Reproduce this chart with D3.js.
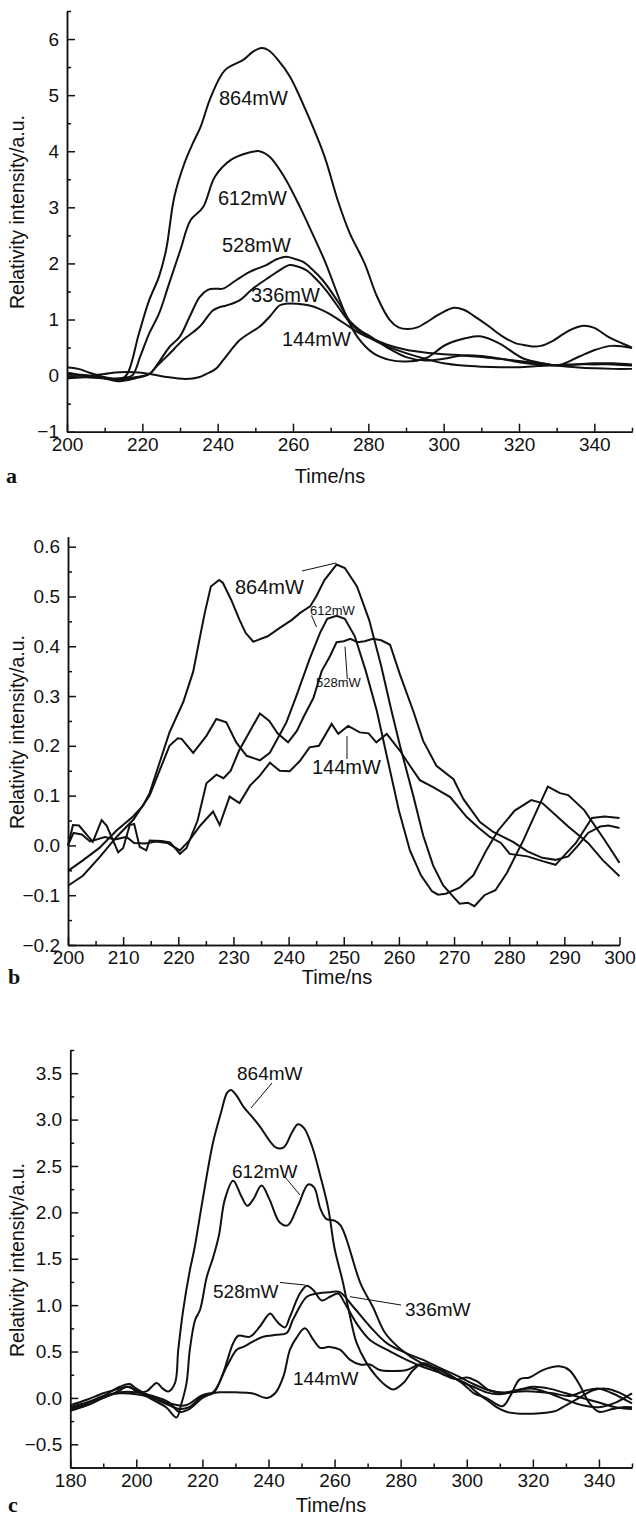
<!DOCTYPE html>
<head>
  <meta charset="utf-8">
  <script src="https://d3js.org/d3.v7.min.js"></script>
  <style>
    body { margin: 0; background: #fff; }
    svg text { font-family: "Liberation Sans", Arial, sans-serif; fill: #111; }
    .axis path, .axis line { stroke: #111; stroke-width: 1.5px; }
    .axis text { font-size: 19px; }
    .curve { fill: none; stroke: #111; stroke-width: 2px; }
    .lead { stroke: #111; stroke-width: 1px; }
    .letter { font-family: "Liberation Serif", "Times New Roman", serif !important; font-weight: bold; font-size: 22px; }
  </style>
</head>
<body>
<script>
// ---- panel a : time (ns), intensity ----
var a864 = [[200,0.15],[203,0.12],[206,0.05],[209,-0.01],[212,-0.06],[214,-0.08],[216,0.03],[219.1,0.75],[221.8,1.34],[224.4,1.76],[226.3,2.24],[228.5,3.19],[231.2,3.79],[233.4,4.14],[235.5,4.44],[238.2,4.97],[242,5.45],[246.8,5.63],[249.5,5.78],[251.7,5.84],[253.5,5.8],[256,5.63],[259.2,5.33],[264.1,4.62],[268.4,3.9],[272,3.1],[275,2.55],[279,2.0],[282.3,1.41],[285.6,1.0],[288,0.86],[290.4,0.83],[293,0.86],[295.2,0.94],[299,1.1],[302.7,1.21],[305.5,1.17],[308.1,1.06],[312,0.88],[315.6,0.7],[319,0.58],[321,0.55],[323.5,0.52],[325.8,0.53],[329,0.62],[331.7,0.74],[334.5,0.84],[337.1,0.89],[340,0.85],[343.5,0.7],[346.5,0.6],[350,0.5]];
var a612 = [[200,-0.05],[204,-0.03],[208,-0.02],[212,-0.05],[215,-0.04],[217.3,0.0],[219.5,0.35],[221.8,0.75],[224.4,1.1],[227.1,1.64],[230.1,2.24],[232.8,2.77],[236.1,3.0],[239.3,3.55],[243.6,3.85],[247.9,3.97],[251.1,4.0],[253.8,3.9],[257.6,3.55],[261.9,3.0],[265.1,2.54],[268.4,2.05],[273.8,1.12],[277,0.7],[281.3,0.4],[285.6,0.28],[289.9,0.25],[295.2,0.31],[300.6,0.55],[306,0.67],[309.7,0.7],[314.6,0.58],[321,0.31],[326.4,0.22],[330.7,0.19],[336,0.34],[340.3,0.46],[344.6,0.53],[350,0.49]];
var a528 = [[200,0.02],[205,0.0],[210,-0.05],[214,-0.1],[218,-0.05],[221.9,0.03],[224.5,0.25],[227.2,0.51],[229.9,0.69],[232.5,1.04],[235.2,1.4],[237.4,1.53],[239.5,1.55],[241.4,1.55],[244.9,1.7],[248.5,1.85],[252.9,1.97],[255.5,2.07],[258.2,2.12],[260.5,2.08],[262.6,2.03],[265,1.9],[267.9,1.7],[272.3,1.28],[275,0.98],[278,0.8],[280,0.72],[285,0.5],[290,0.33],[295,0.27],[300,0.3],[305,0.36],[310,0.35],[315,0.3],[320,0.24],[325,0.2],[330,0.18],[335,0.2],[340,0.22],[345,0.22],[350,0.2]];
var a336 = [[200,-0.02],[205,-0.03],[210,-0.05],[214,-0.07],[218,-0.03],[221.9,0.03],[224,0.18],[226.3,0.33],[228.5,0.48],[230.7,0.63],[235.2,0.87],[238.7,1.16],[240.5,1.22],[242.3,1.25],[245.8,1.34],[249.3,1.55],[253.8,1.76],[256.5,1.88],[259.1,1.97],[261,1.95],[263.5,1.88],[266,1.73],[268.8,1.52],[273.3,1.1],[275,0.95],[277.5,0.8],[280,0.7],[285,0.55],[290,0.46],[295,0.41],[300,0.38],[305,0.36],[310,0.33],[315,0.3],[320,0.26],[325,0.22],[330,0.18],[335,0.15],[340,0.13],[345,0.12],[350,0.12]];
var a144 = [[200,0.05],[203,0.02],[206,0.0],[210,0.03],[214,0.06],[218,0.06],[222,0.03],[226,-0.02],[231.6,-0.06],[235,-0.03],[237,0.03],[239.5,0.12],[241.4,0.27],[243.5,0.45],[245.8,0.63],[248.5,0.76],[251.1,0.87],[253.8,1.05],[256.4,1.25],[258,1.28],[261,1.28],[264.4,1.25],[267,1.19],[269.7,1.1],[272.5,0.98],[275,0.87],[277.5,0.76],[280,0.68],[285,0.52],[290,0.4],[295,0.3],[300,0.22],[305,0.18],[310,0.16],[315,0.15],[320,0.15],[325,0.17],[330,0.19],[335,0.2],[340,0.2],[345,0.2],[350,0.18]];

// ---- panel b ----
var b864 = [[200,-0.051],[202.7,-0.03],[205.7,-0.005],[208.8,0.03],[211.8,0.058],[213.6,0.08],[214.8,0.105],[216.6,0.166],[218.4,0.227],[220.9,0.288],[222.7,0.349],[223.9,0.417],[224.8,0.467],[225.9,0.52],[227.4,0.533],[228.1,0.527],[229.6,0.493],[231.1,0.453],[232.2,0.427],[233.6,0.409],[236.2,0.42],[238.4,0.437],[240.6,0.453],[242.1,0.467],[243.9,0.48],[245,0.5],[246.5,0.533],[248.7,0.564],[250.2,0.557],[252.4,0.52],[254.6,0.453],[256.8,0.36],[258.6,0.273],[260.2,0.2],[262.6,0.1],[264.4,0.02],[266.2,-0.04],[268,-0.08],[270,-0.105],[271,-0.117],[272.5,-0.115],[273.7,-0.122],[275.5,-0.1],[277.5,-0.09],[279.6,-0.055],[282.6,0.011],[285,0.07],[287,0.118],[289.2,0.105],[290.7,0.101],[293.6,0.071],[297.3,0.011],[300,-0.035]];
var b612 = [[200,-0.081],[202.7,-0.061],[205.7,-0.024],[208.8,0.017],[211.8,0.051],[214.8,0.1],[216.6,0.15],[218.4,0.2],[219.9,0.215],[220.6,0.214],[222.7,0.186],[225.1,0.22],[226.9,0.254],[228.7,0.247],[230.5,0.207],[232.4,0.18],[234.8,0.171],[236.6,0.186],[239.6,0.247],[241.4,0.3],[243.8,0.374],[245.7,0.427],[247,0.455],[248.7,0.461],[250.2,0.455],[252,0.42],[254,0.35],[256,0.27],[258,0.17],[260,0.07],[262,-0.01],[264,-0.06],[266,-0.092],[267.1,-0.099],[268.5,-0.097],[271,-0.085],[273.5,-0.06],[275.9,-0.009],[278,0.03],[281,0.07],[284,0.091],[286,0.085],[288,0.065],[290.7,0.038],[294.3,0.005],[297,-0.03],[300,-0.062]];
var b528 = [[200,0.0],[200.9,0.041],[202,0.04],[203.5,0.02],[204.5,0.007],[206.1,0.051],[207,0.04],[209.1,-0.014],[210,-0.005],[211.2,0.041],[212,0.043],[213,-0.003],[214.2,-0.01],[214.8,0.01],[217,0.009],[218.5,0.006],[220.3,-0.017],[221.5,-0.005],[223.5,0.05],[225.1,0.125],[226.9,0.142],[228.2,0.135],[229.5,0.15],[231,0.19],[233,0.23],[234.8,0.265],[236.5,0.25],[238,0.225],[239.9,0.207],[241.5,0.23],[242.8,0.26],[244.5,0.296],[246,0.35],[247.5,0.38],[248.7,0.408],[250,0.41],[251.2,0.415],[252.5,0.408],[253.8,0.41],[255.3,0.415],[256.8,0.412],[258.4,0.403],[260.2,0.343],[262.6,0.27],[264.4,0.21],[266.8,0.16],[269.9,0.133],[271.7,0.093],[274.7,0.047],[277.1,0.027],[280.7,0.007],[283.3,-0.012],[286,-0.025],[288.4,-0.029],[290.7,-0.022],[292.5,0.0],[294.3,0.025],[296.5,0.038],[298,0.04],[300,0.035]];
var b144 = [[200,0.0],[201,0.025],[202.5,0.022],[204,0.008],[206.7,0.017],[208.5,0.012],[210.6,0.017],[212,0.005],[214,0.004],[216,0.008],[218,0.005],[220.3,-0.01],[222,0.01],[224,0.04],[226.3,0.068],[227.5,0.041],[229.3,0.098],[231.1,0.085],[233,0.12],[234.8,0.14],[236.6,0.166],[238.4,0.15],[240.2,0.149],[242,0.169],[243.8,0.197],[245.5,0.2],[247.8,0.244],[249,0.224],[250.8,0.24],[252.9,0.227],[254.5,0.225],[255.9,0.207],[257.8,0.224],[260.2,0.19],[262,0.16],[263.8,0.131],[266.2,0.117],[269.3,0.097],[272.3,0.057],[274.5,0.035],[276.5,0.017],[278.5,0.005],[280.1,-0.017],[283.3,-0.022],[286.2,-0.032],[288.4,-0.039],[290,-0.02],[292.1,0.005],[295,0.055],[297.3,0.058],[300,0.055]];

// ---- panel c ----
var c864 = [[180,-0.08],[185,-0.02],[190,0.05],[195,0.1],[198,0.12],[200,0.07],[203,0.07],[206.2,0.16],[208,0.1],[209.7,0.07],[211.7,0.16],[212.7,0.52],[214.2,0.95],[216.2,1.375],[217.6,1.61],[220.1,2.14],[223.2,2.75],[225.6,3.07],[227.5,3.29],[228.7,3.32],[230.5,3.25],[232.4,3.14],[234.8,3.04],[237.3,2.93],[242.2,2.7],[244.6,2.7],[247.1,2.86],[248.9,2.95],[250.7,2.91],[253.2,2.71],[255.7,2.39],[258.1,2.04],[260,1.61],[262.5,1.25],[264.7,0.875],[266.7,0.59],[269.7,0.375],[272.7,0.23],[275.8,0.125],[277.8,0.09],[280.8,0.16],[283.8,0.3],[286.8,0.375],[290,0.33],[293.7,0.27],[297,0.2],[300,0.15],[303,0.06],[306,-0.02],[309,-0.1],[312,-0.15],[316,-0.17],[320,-0.17],[324,-0.16],[327,-0.14],[330,-0.08],[334,0.0],[338,0.08],[342,0.1],[346,0.06],[350,-0.02]];
var c612 = [[180,-0.14],[185,-0.08],[190,0.0],[195,0.08],[197,0.12],[200,0.08],[205,-0.02],[209,-0.1],[212.2,-0.21],[213.5,-0.08],[215.2,0.16],[216.2,0.52],[217.8,0.84],[219.3,0.95],[221.3,1.3],[223.3,1.52],[225,1.75],[226.8,2.14],[229.3,2.34],[231.7,2.18],[233.6,2.07],[235.4,2.14],[237.9,2.29],[240.3,2.14],[243.4,1.89],[245.8,1.86],[248.9,2.07],[252,2.3],[253.8,2.27],[255.7,2.04],[257.5,1.93],[260,1.91],[261.8,1.86],[263.6,1.71],[265,1.55],[267.9,1.23],[271.6,0.98],[275.3,0.7],[280.2,0.52],[286.3,0.375],[293.7,0.27],[298.6,0.16],[302.2,0.05],[305.9,0.0],[310.8,-0.09],[313.3,0.03],[316,0.2],[319,0.22],[323,0.3],[328,0.34],[331,0.3],[334,0.15],[337,-0.05],[340,-0.15],[344,-0.12],[347,-0.1],[350,-0.1]];
var c528 = [[180,-0.1],[185,-0.05],[190,0.02],[195,0.12],[198,0.15],[200,0.1],[205,0.0],[210,-0.08],[213,-0.12],[216,-0.1],[220,0.02],[223.3,0.05],[226.3,0.27],[229.3,0.59],[230.9,0.67],[234.4,0.66],[237.4,0.77],[240.5,0.91],[242,0.85],[243.5,0.79],[245,0.76],[246.5,0.875],[249.5,1.125],[251.6,1.21],[253.6,1.16],[256.1,1.05],[258.6,1.09],[261.1,1.125],[263.1,1.02],[266.7,0.8],[270.7,0.625],[275.8,0.52],[281.8,0.41],[287,0.33],[292,0.27],[297,0.2],[302,0.12],[306,0.06],[310,0.04],[315,0.08],[320,0.1],[325,0.05],[330,-0.02],[335,-0.08],[340,-0.1],[345,-0.05],[350,0.05]];
var c336 = [[180,-0.12],[185,-0.08],[190,0.0],[195,0.06],[200,0.06],[205,0.02],[210,-0.05],[213,-0.15],[216,-0.12],[220,0.0],[223.5,0.07],[227.4,0.34],[230.4,0.52],[232.4,0.55],[235.4,0.61],[238.4,0.66],[242.5,0.68],[245.5,0.7],[247.5,0.85],[251.6,1.09],[254.6,1.125],[258.6,1.14],[261.6,1.14],[265.7,0.98],[270.7,0.77],[275.8,0.59],[281.8,0.48],[286.8,0.41],[292,0.32],[297,0.24],[302,0.15],[307,0.08],[312,0.06],[317,0.1],[320,0.12],[325,0.1],[330,0.05],[335,0.0],[340,-0.05],[345,-0.1],[350,-0.12]];
var c144 = [[180,-0.12],[185,-0.06],[190,0.02],[195,0.05],[200,0.04],[205,0.0],[210,-0.06],[215,-0.08],[220,0.03],[225,0.06],[230,0.06],[235,0.05],[239.5,0.0],[242,0.05],[244.5,0.23],[246.5,0.52],[248.5,0.65],[251,0.75],[253.6,0.625],[255.6,0.54],[258.6,0.55],[261.6,0.52],[264.7,0.41],[267.7,0.36],[270.7,0.36],[273.7,0.3],[277.8,0.29],[281.8,0.3],[285.8,0.36],[289,0.33],[293,0.25],[297,0.2],[300,0.22],[303,0.18],[307,0.08],[311,0.05],[316,0.07],[320,0.07],[326,0.05],[331,0.02],[336,0.08],[340,0.1],[344,0.05],[350,-0.06]];

// ticks
var aXTicks = [200,220,240,260,280,300,320,340];
var aYTicks = [-1,0,1,2,3,4,5,6];
var bXTicks = [200,210,220,230,240,250,260,270,280,290,300];
var bYTicks = [-0.2,-0.1,0.0,0.1,0.2,0.3,0.4,0.5,0.6];
var cXTicks = [180,200,220,240,260,280,300,320,340];
var cYTicks = [-0.5,0.0,0.5,1.0,1.5,2.0,2.5,3.0,3.5];

var svg = d3.select("body").append("svg")
    .attr("width", 636)
    .attr("height", 1517);

function range(a, b, step) {
  var out = [];
  for (var v = a; v <= b + 1e-9; v += step) out.push(+v.toFixed(4));
  return out;
}

function panel(p) {
  var x = d3.scaleLinear().domain(p.xd).range(p.xr);
  var y = d3.scaleLinear().domain(p.yd).range(p.yr);
  var g = svg.append("g");

  // minor ticks
  g.append("g").attr("class", "axis")
      .attr("transform", "translate(0," + p.yr[0] + ")")
      .call(d3.axisBottom(x).tickValues(p.xMinor).tickSize(-4).tickSizeOuter(0).tickFormat(""));
  g.append("g").attr("class", "axis")
      .attr("transform", "translate(" + p.xr[0] + ",0)")
      .call(d3.axisLeft(y).tickValues(p.yMinor).tickSize(-4).tickSizeOuter(0).tickFormat(""));

  // major ticks
  g.append("g").attr("class", "axis")
      .attr("transform", "translate(0," + p.yr[0] + ")")
      .call(d3.axisBottom(x).tickValues(p.xTicks).tickSize(-8).tickSizeOuter(0).tickPadding(6).tickFormat(d3.format("d")));
  g.append("g").attr("class", "axis")
      .attr("transform", "translate(" + p.xr[0] + ",0)")
      .call(d3.axisLeft(y).tickValues(p.yTicks).tickSize(-8).tickSizeOuter(0).tickPadding(8).tickFormat(p.yFmt));

  var line = d3.line()
      .x(function(d) { return x(d[0]); })
      .y(function(d) { return y(d[1]); })
      .curve(p.curve);

  p.series.forEach(function(s) {
    g.append("path").attr("class", "curve").attr("d", line(s));
  });

  p.labels.forEach(function(l) {
    g.append("text").attr("x", l[1]).attr("y", l[2])
        .style("font-size", (l[3] || 18) + "px").text(l[0]);
  });
  (p.leads || []).forEach(function(l) {
    g.append("line").attr("class", "lead")
        .attr("x1", l[0]).attr("y1", l[1]).attr("x2", l[2]).attr("y2", l[3]);
  });

  g.append("text").attr("x", p.xTitle[0]).attr("y", p.xTitle[1])
      .attr("text-anchor", "middle").style("font-size", "20px").text("Time/ns");
  g.append("text")
      .attr("transform", "translate(" + p.yTitle[0] + "," + p.yTitle[1] + ") rotate(-90)")
      .attr("text-anchor", "middle").style("font-size", "19.5px")
      .text("Relativity intensity/a.u.");
  g.append("text").attr("class", "letter").attr("x", p.letter[0]).attr("y", p.letter[1]).text(p.letter[2]);
}

panel({
  xd: [200, 350], xr: [67, 632],
  yd: [-1, 6.5], yr: [431.7, 11],
  xTicks: aXTicks, xMinor: range(210, 350, 20),
  yTicks: aYTicks, yMinor: range(-0.5, 6.5, 1),
  yFmt: d3.format("d"),
  curve: d3.curveCatmullRom.alpha(0.5),
  series: [a864, a612, a528, a336, a144],
  labels: [["864mW", 219, 105, 20], ["612mW", 218, 205, 20], ["528mW", 222, 252, 20],
           ["336mW", 251, 302, 20], ["144mW", 282, 346, 20]],
  xTitle: [330, 483], yTitle: [24, 212], letter: [6, 483, "a"]
});

panel({
  xd: [200, 300], xr: [68, 619.5],
  yd: [-0.2, 0.62], yr: [945, 536.7],
  xTicks: bXTicks, xMinor: range(205, 295, 10),
  yTicks: bYTicks, yMinor: range(-0.15, 0.55, 0.1),
  yFmt: d3.format(".1f"),
  curve: d3.curveLinear,
  series: [b864, b612, b528, b144],
  labels: [["864mW", 235, 594, 20], ["612mW", 310, 615, 13], ["528mW", 316, 687, 13],
           ["144mW", 312, 774, 20]],
  leads: [[302, 571, 336, 563], [311.5, 615.5, 316.5, 627], [345, 646.7, 347.3, 679], [347, 736, 347, 759]],
  xTitle: [337, 984], yTitle: [24, 732], letter: [8, 984, "b"]
});

panel({
  xd: [180, 350], xr: [70.2, 632],
  yd: [-0.75, 3.75], yr: [1467.5, 1050],
  xTicks: cXTicks, xMinor: range(190, 350, 20),
  yTicks: cYTicks, yMinor: range(-0.75, 3.75, 0.5),
  yFmt: d3.format(".1f"),
  curve: d3.curveCatmullRom.alpha(0.5),
  series: [c864, c612, c528, c336, c144],
  labels: [["864mW", 237, 1080, 19], ["612mW", 232, 1178, 19], ["528mW", 213, 1298, 19],
           ["336mW", 405, 1316, 19], ["144mW", 293, 1385, 19]],
  leads: [[272, 1083, 251, 1108], [285, 1177, 300, 1195], [280, 1282.5, 305, 1285], [350, 1296.7, 401, 1305]],
  xTitle: [331, 1512], yTitle: [24, 1260], letter: [8, 1512, "c"]
});
</script>
</body>
